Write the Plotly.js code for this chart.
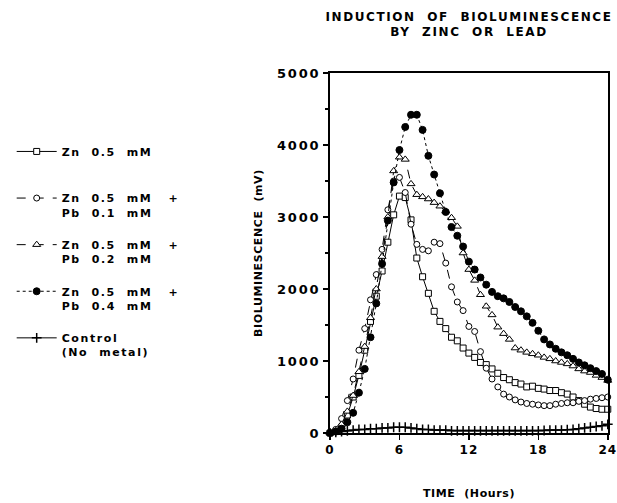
<!DOCTYPE html>
<html>
<head>
<meta charset="utf-8">
<script src="https://cdn.plot.ly/plotly-3.0.1.min.js"></script>
<style>
html,body{margin:0;padding:0;background:#fff;}
#chart{width:617px;height:503px;}
.gtitle{letter-spacing:1.6px;}
.legendtext{letter-spacing:1.6px;}
.ytick text{letter-spacing:1.8px;}
.xtick text{letter-spacing:1px;}
.xtitle, .ytitle{letter-spacing:0.6px;}
</style>
</head>
<body>
<div id="chart"></div>
<script>
// Time (hours)
const timeHours = [0,0.5,1,1.5,2,2.5,3,3.5,4,4.5,5,5.5,6,6.5,7,7.5,8,8.5,9,9.5,10,10.5,11,11.5,12,12.5,13,13.5,14,14.5,15,15.5,16,16.5,17,17.5,18,18.5,19,19.5,20,20.5,21,21.5,22,22.5,23,23.5,24];

// Bioluminescence (mV)
const zn05 = [0,20,80,250,500,800,1150,1550,1900,2250,2650,3030,3290,3270,2960,2430,2170,1940,1690,1550,1450,1330,1280,1180,1110,1050,980,950,890,830,770,740,700,680,640,650,620,610,590,590,560,540,500,450,400,360,340,330,330];
const zn05pb01 = [0,50,200,450,750,1150,1450,1850,2200,2550,3100,3500,3550,3340,2900,2620,2550,2530,2650,2630,2360,2030,1820,1700,1480,1410,1130,900,750,640,540,500,460,430,410,400,390,380,380,400,410,420,420,440,450,470,480,490,500];
const zn05pb02 = [0,30,120,300,520,850,1200,1600,2000,2450,3000,3640,3830,3800,3460,3310,3280,3250,3200,3150,3080,2990,2870,2500,2270,2120,1920,1760,1640,1470,1380,1300,1180,1150,1120,1100,1080,1050,1030,1000,980,960,930,890,860,840,800,770,730];
const zn05pb04 = [0,20,60,150,280,560,890,1330,1800,2350,2950,3480,3930,4250,4420,4420,4210,3850,3590,3330,3070,2860,2740,2590,2380,2270,2160,2060,1960,1900,1870,1820,1750,1690,1620,1530,1420,1300,1230,1170,1120,1080,1030,980,940,900,860,820,740];
const control = [0,10,20,30,40,50,50,60,60,70,70,80,80,80,70,60,50,50,40,40,40,30,30,30,30,30,30,30,30,30,30,30,30,30,30,30,30,35,40,40,40,45,50,60,70,80,90,100,120];

const seriesNames = [
  "Zn\u00a0\u00a00.5\u00a0\u00a0mM",
  "Zn\u00a0\u00a00.5\u00a0\u00a0mM\u00a0\u00a0\u00a0+<br>Pb\u00a0\u00a00.1\u00a0\u00a0mM",
  "Zn\u00a0\u00a00.5\u00a0\u00a0mM\u00a0\u00a0\u00a0+<br>Pb\u00a0\u00a00.2\u00a0\u00a0mM",
  "Zn\u00a0\u00a00.5\u00a0\u00a0mM\u00a0\u00a0\u00a0+<br>Pb\u00a0\u00a00.4\u00a0\u00a0mM",
  "Control<br>(No\u00a0\u00a0metal)"
];
const xTicks = [0,6,12,18,24];
const yTicks = [0,1000,2000,3000,4000,5000];

const FAMILY = "DejaVu Sans, Arial, sans-serif";

function tr(y, name, symbol, fill, dash, size, rank){
  return {
    x: timeHours, y: y, name: name, type: "scatter", mode: "lines+markers",
    legendgroup: "g" + rank, legendrank: rank,
    line: {color: "#000", width: 1, dash: dash},
    marker: {symbol: symbol, size: size, color: fill, line: {color: "#000", width: 1}},
    cliponaxis: false
  };
}

const traces = [
  tr(control, seriesNames[4], "cross-thin-open", "#000", "solid", 7, 5),
  tr(zn05, seriesNames[0] + "<br>\u00a0", "square", "#fff", "solid", 6, 1),
  tr(zn05pb01, seriesNames[1], "circle", "#fff", "dash", 6, 2),
  tr(zn05pb02, seriesNames[2], "triangle-up", "#fff", "dash", 7, 3),
  tr(zn05pb04, seriesNames[3], "circle", "#000", "dot", 7, 4)
];
traces[0].marker.line.width = 1.5;

const layout = {
  width: 617, height: 503,
  margin: {l: 330, r: 9, t: 73, b: 70},
  paper_bgcolor: "#fff", plot_bgcolor: "#fff",
  font: {family: FAMILY, size: 12, color: "#000", weight: "bold"},
  showlegend: true,
  title: {
    text: "INDUCTION\u00a0\u00a0OF\u00a0\u00a0BIOLUMINESCENCE<br>BY\u00a0\u00a0ZINC\u00a0\u00a0OR\u00a0\u00a0LEAD",
    font: {family: FAMILY, size: 12, color: "#000", weight: "bold"},
    xref: "paper", x: 0.5, xanchor: "center",
    yref: "container", y: 0.959, yanchor: "top"
  },
  legend: {
    x: -1.145, xanchor: "left", y: 0.82, yanchor: "top",
    traceorder: "grouped", tracegroupgap: 15, valign: "top",
    font: {family: FAMILY, size: 11, color: "#000", weight: "bold"},
    bgcolor: "rgba(0,0,0,0)", itemwidth: 40
  },
  xaxis: {
    range: [0, 24.02], tickvals: xTicks, ticktext: xTicks.map(String),
    ticklabeloverflow: "allow",
    showgrid: false, zeroline: false,
    showline: true, linecolor: "#000", linewidth: 2, mirror: true,
    ticks: "outside", ticklen: 5, tickwidth: 1.5, tickcolor: "#000",
    tickfont: {family: FAMILY, size: 12, color: "#000", weight: "bold"},
    title: {text: "TIME\u00a0\u00a0(Hours)", font: {family: FAMILY, size: 11, color: "#000", weight: "bold"}, standoff: 33}
  },
  yaxis: {
    range: [0, 5000], tickvals: yTicks, ticktext: yTicks.map(String),
    showgrid: false, zeroline: false,
    showline: true, linecolor: "#000", linewidth: 2, mirror: true,
    ticks: "outside", ticklen: 5, tickwidth: 1.5, tickcolor: "#000",
    minor: {dtick: 500, ticks: "outside", ticklen: 3, tickcolor: "#000"},
    tickfont: {family: FAMILY, size: 13, color: "#000", weight: "bold"},
    title: {text: "BIOLUMINESCENCE\u00a0\u00a0(mV)", font: {family: FAMILY, size: 11, color: "#000", weight: "bold"}, standoff: 12}
  }
};

Plotly.newPlot("chart", traces, layout, {displayModeBar: false, staticPlot: true});
</script>
</body>
</html>
